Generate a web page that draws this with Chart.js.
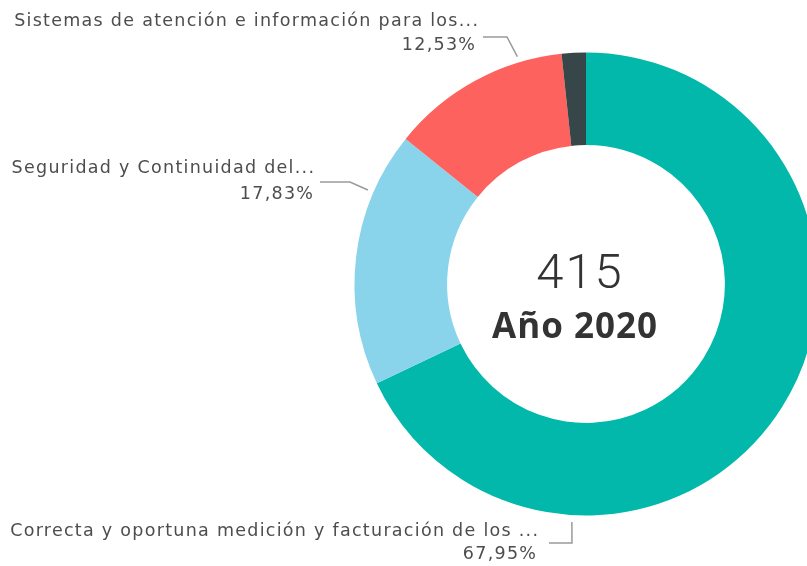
<!DOCTYPE html>
<html>
<head>
<meta charset="utf-8">
<script src="https://cdn.jsdelivr.net/npm/chart.js@4"></script>
<style>
  html, body { margin: 0; padding: 0; background: #fff; overflow: hidden; }
  #wrap { position: relative; width: 840px; height: 566px; }
</style>
</head>
<body>
<div id="wrap"><canvas id="donut"></canvas></div>
<script>
// data
const categories = [
  "Correcta y oportuna medición y facturación de los consumos",
  "Seguridad y Continuidad del servicio",
  "Sistemas de atención e información para los usuarios",
  "Otros"
];
const shownLabels = [
  "Correcta y oportuna medición y facturación de los ...",
  "Seguridad y Continuidad del...",
  "Sistemas de atención e información para los...",
  null
];
const counts = [282, 74, 52, 7];
const sliceColors = ["#01B8AA", "#8AD4EB", "#FD625E", "#374649"];
const centerTitle = "Año 2020";

const total = counts.reduce((a, b) => a + b, 0);

// leader line / label layout (pixels, degrees clockwise from top)
const labelLayout = [
  { angle: 183.4, out: 7, elbow: [572, 543], end: [549, 543], textX: 538, y1: 531, pctX: 536, y2: 554 },
  { angle: 293.3, out: 6, elbow: [350, 182], end: [320, 182], textX: 314, y1: 168, pctX: 313, y2: 194 },
  { angle: 343.2, out: 6, elbow: [507, 37], end: [483, 37], textX: 478, y1: 21, pctX: 475, y2: 45 },
  null
];

function pct(v) {
  return (v / total * 100).toFixed(2).replace(".", ",") + "%";
}

const labelPlugin = {
  id: "labelPlugin",
  afterDraw(chart) {
    const ctx = chart.ctx;
    const arc = chart.getDatasetMeta(0).data[0];
    const cx = arc.x, cy = arc.y, r = arc.outerRadius;

    // center text
    ctx.save();
    ctx.fillStyle = "#333333";
    ctx.textAlign = "center";
    ctx.textBaseline = "alphabetic";
    ctx.font = "300 49px Roboto";
    ctx.letterSpacing = "2px";
    ctx.fillText(String(total), cx - 6, cy + 4);
    ctx.font = "bold 35px 'Open Sans'";
    ctx.letterSpacing = "1px";
    ctx.fillText(centerTitle, cx - 11, cy + 54);
    ctx.restore();

    // slice labels
    ctx.save();
    ctx.font = "17.5px 'DejaVu Sans'";
    const w0 = ctx.measureText(shownLabels[2]).width;
    const spacing = (465 - w0) / shownLabels[2].length;
    ctx.letterSpacing = spacing.toFixed(2) + "px";
    ctx.textAlign = "right";
    ctx.textBaseline = "middle";
    labelLayout.forEach((lay, i) => {
      if (!lay) return;
      const a = lay.angle * Math.PI / 180;
      const ax = cx + (r + lay.out) * Math.sin(a);
      const ay = cy - (r + lay.out) * Math.cos(a);
      ctx.strokeStyle = "#9a9a9a";
      ctx.lineWidth = 1.5;
      ctx.beginPath();
      ctx.moveTo(ax, ay);
      ctx.lineTo(lay.elbow[0], lay.elbow[1]);
      ctx.lineTo(lay.end[0], lay.end[1]);
      ctx.stroke();

      ctx.fillStyle = "#4d4d4d";
      ctx.fillText(shownLabels[i], lay.textX + spacing, lay.y1);
      ctx.fillText(pct(counts[i]), lay.pctX + spacing, lay.y2);
    });
    ctx.restore();
  }
};

const ctxDonut = document.getElementById("donut");
new Chart(ctxDonut, {
  type: "doughnut",
  data: {
    labels: categories,
    datasets: [
      {
        label: "Año 2020",
        data: counts,
        backgroundColor: sliceColors,
        borderWidth: 0,
      },
    ],
  },
  options: {
    responsive: true,
    maintainAspectRatio: false,
    animation: false,
    cutout: "60%",
    layout: { padding: { left: 354.5, right: 22.5, top: 52.5, bottom: 50.5 } },
    plugins: {
      legend: { display: false },
      tooltip: { enabled: true },
    },
  },
  plugins: [labelPlugin],
});
</script>
</body>
</html>
